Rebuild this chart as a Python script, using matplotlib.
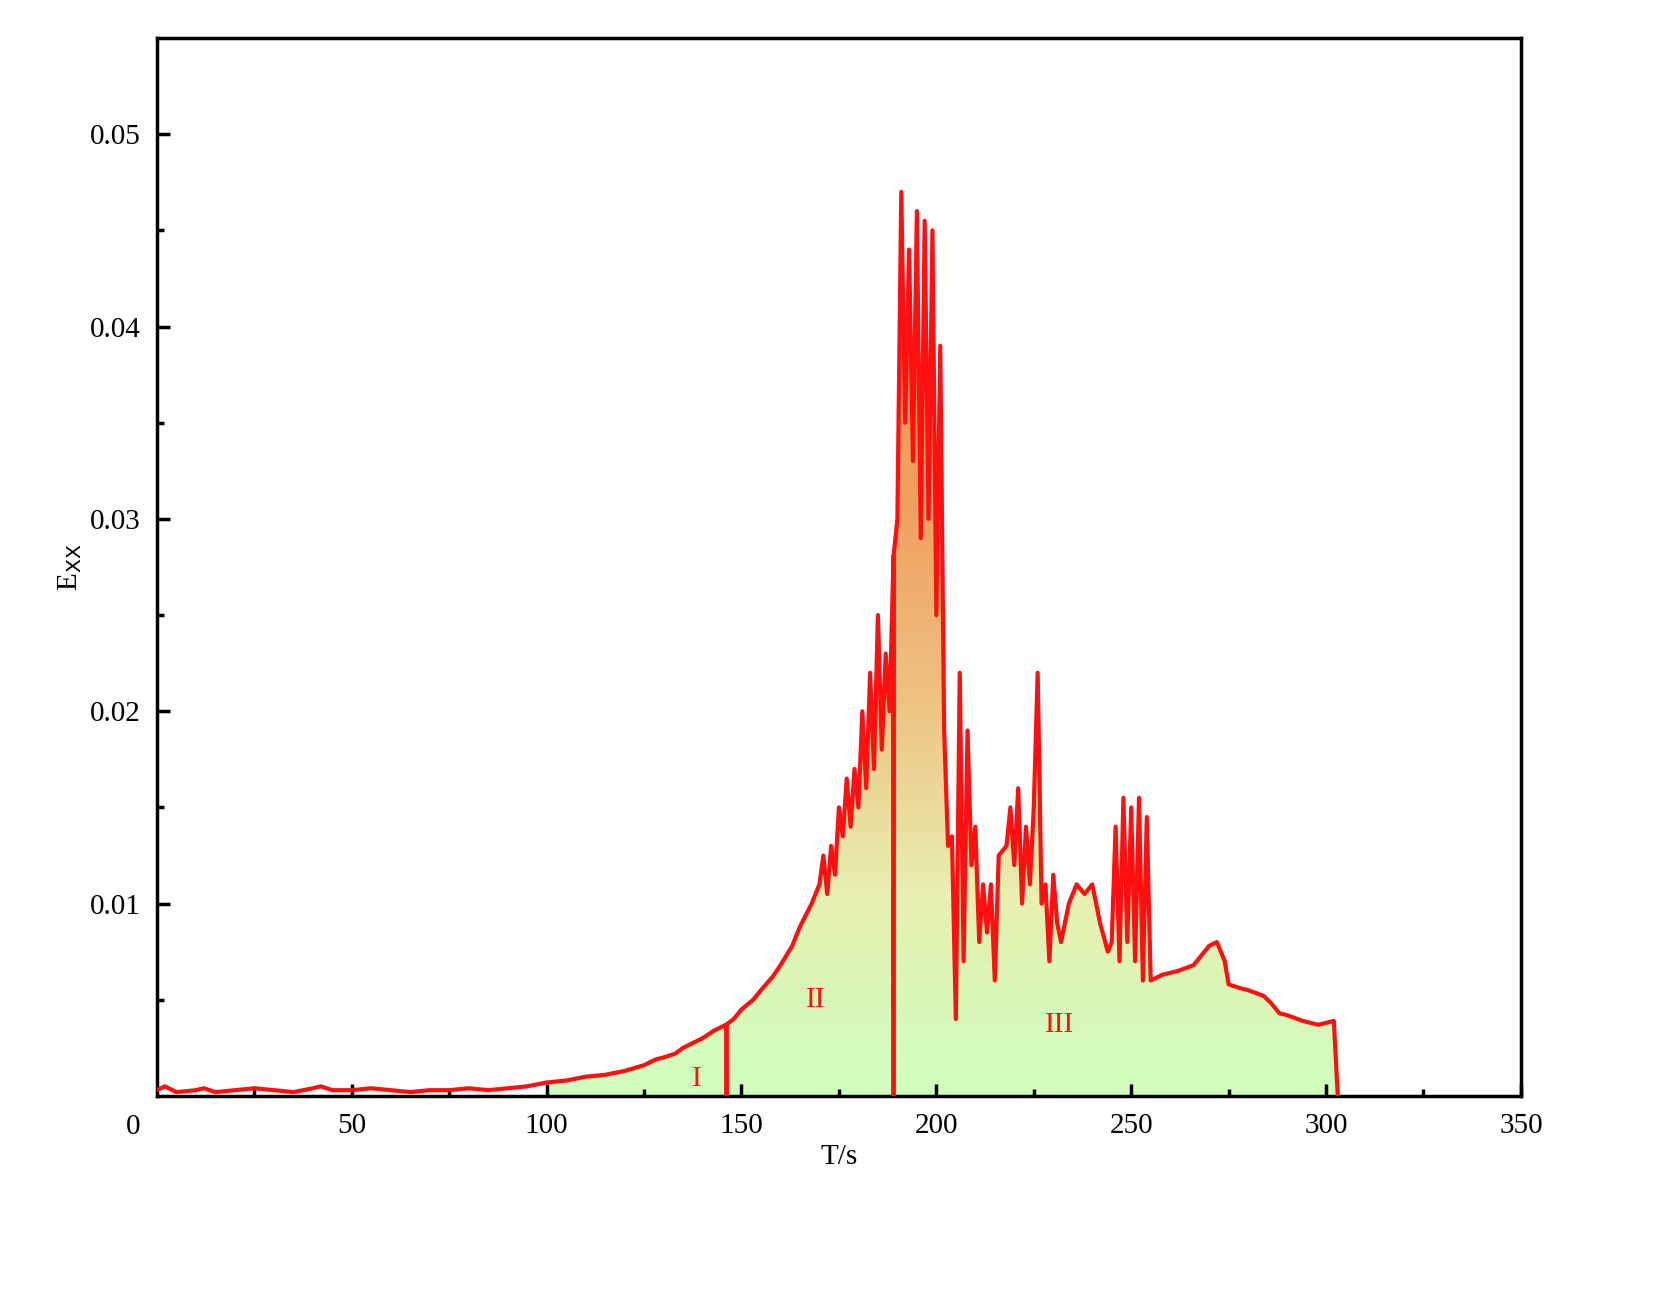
import matplotlib
matplotlib.use("Agg")
import matplotlib.pyplot as plt
import numpy as np
from matplotlib.colors import LinearSegmentedColormap
from matplotlib.path import Path
from matplotlib.patches import PathPatch

t = [0,2,5,10,12,15,20,25,30,35,40,42,45,50,55,60,65,70,75,80,85,90,95,100,105,110,115,120,125,128,130,133,135,138,140,143,146,148,150,153,155,158,160,163,165,168,170,171,172,173,174,175,176,177,178,179,180,181,182,183,184,185,186,187,188,189,190,191,192,193,194,195,196,197,198,199,200,201,202,203,204,205,206,207,208,209,210,211,212,213,214,215,216,218,219,220,221,222,223,224,225,226,227,228,229,230,231,232,234,236,238,240,242,244,245,246,247,248,249,250,251,252,253,254,255,258,262,266,270,272,274,275,278,280,284,286,288,290,294,298,302,303]
exx = [0.0003,0.0005,0.0002,0.0003,0.0004,0.0002,0.0003,0.0004,0.0003,0.0002,0.0004,0.0005,0.0003,0.0003,0.0004,0.0003,0.0002,0.0003,0.0003,0.0004,0.0003,0.0004,0.0005,0.0007,0.0008,0.0010,0.0011,0.0013,0.0016,0.0019,0.0020,0.0022,0.0025,0.0028,0.0030,0.0034,0.0037,0.0040,0.0045,0.0050,0.0055,0.0062,0.0068,0.0078,0.0088,0.0100,0.0110,0.0125,0.0105,0.0130,0.0115,0.0150,0.0135,0.0165,0.0140,0.0170,0.0150,0.0200,0.0160,0.0220,0.0170,0.0250,0.0180,0.0230,0.0200,0.0280,0.0300,0.0470,0.0350,0.0440,0.0330,0.0460,0.0290,0.0455,0.0300,0.0450,0.0250,0.0390,0.0190,0.0130,0.0135,0.0040,0.0220,0.0070,0.0190,0.0120,0.0140,0.0080,0.0110,0.0085,0.0110,0.0060,0.0125,0.0130,0.0150,0.0120,0.0160,0.0100,0.0140,0.0110,0.0150,0.0220,0.0100,0.0110,0.0070,0.0115,0.0090,0.0080,0.0100,0.0110,0.0105,0.0110,0.0090,0.0075,0.0080,0.0140,0.0070,0.0155,0.0080,0.0150,0.0070,0.0155,0.0060,0.0145,0.0060,0.0063,0.0065,0.0068,0.0078,0.0080,0.0070,0.0058,0.0056,0.0055,0.0052,0.0048,0.0043,0.0042,0.0039,0.0037,0.0039,0.0]
divider_x = [146, 189]
divider_top = [0.0037, 0.028]
region_labels = ["I", "II", "III"]
region_x = [138.5, 169, 231.5]
region_y = [0.0009, 0.005, 0.0037]

plt.rcParams['font.family'] = ['Liberation Serif', 'DejaVu Serif']
fig = plt.figure(figsize=(16.75, 12.93), dpi=100)
ax = fig.add_axes([0.0937, 0.1524, 0.8143, 0.8182])

ta = np.array(t); ea = np.array(exx)
m = ta >= 100
vx = np.concatenate([[ta[m][0]], ta[m], [ta[m][-1]]])
vy = np.concatenate([[0], ea[m], [0]])
patch = PathPatch(Path(np.column_stack([vx, vy])), facecolor='none', edgecolor='none')
ax.add_patch(patch)
cmap = LinearSegmentedColormap.from_list('g', [(0, '#d0ffc0'), (0.1, '#d8f8b8'), (0.22, '#e8f0b0'), (0.45, '#eec080'), (0.65, '#f0a060'), (1, '#f09050')])
grad = np.linspace(0, 1, 256).reshape(-1, 1)
im = ax.imshow(grad, cmap=cmap, origin='lower', aspect='auto', extent=[100, 304, 0, 0.047], zorder=1)
im.set_clip_path(patch)

ax.plot(t, exx, color='#ff1010', lw=3, zorder=3)
for x, top in zip(divider_x, divider_top):
    ax.plot([x, x], [0, top], color='#ff1010', lw=3.5, zorder=3)
for lab, x, y in zip(region_labels, region_x, region_y):
    ax.text(x, y, lab, color='#ff1010', fontsize=21, ha='center', va='center', zorder=4)

ax.set_xlim(0, 350); ax.set_ylim(0, 0.055)
ax.set_xticks([50,100,150,200,250,300,350])
ax.set_xticks([25,75,125,175,225,275,325], minor=True)
ax.set_yticks([0.01,0.02,0.03,0.04,0.05])
ax.set_yticks([0.005,0.015,0.025,0.035,0.045], minor=True)
ax.tick_params(which='both', direction='in', width=2.5, labelsize=21)
ax.tick_params(which='major', length=9, pad=12)
ax.tick_params(which='minor', length=5)
for s in ax.spines.values():
    s.set_linewidth(2.5)
ax.text(-6, -0.0016, "0", fontsize=21, ha='center', va='center')
ax.set_xlabel("T/s", fontsize=21, labelpad=4)
ax.set_ylabel(r"E$_{\mathrm{XX}}$", fontsize=21)
fig.savefig("out.png", dpi=100)
